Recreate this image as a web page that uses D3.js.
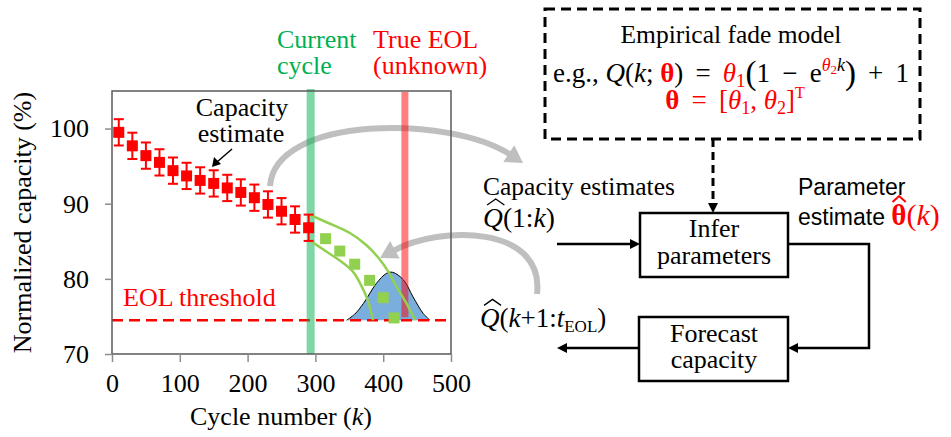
<!DOCTYPE html>
<html><head><meta charset="utf-8">
<script src="https://cdn.jsdelivr.net/npm/d3@7"></script>
<style>html,body{margin:0;padding:0;background:#fff;}svg{display:block;}
svg text{font-family:'Liberation Serif','Times New Roman',serif;white-space:pre;}
svg .sans{font-family:'Liberation Sans',Arial,sans-serif;}
</style>
</head><body>
<svg id="c" width="951" height="437"></svg>
<script>
// ---------- data ----------
const cycles      = [10,30,50,70,90,110,130,150,170,190,210,230,250,270,290];
const capacity    = [99.5,97.7,96.4,95.5,94.4,93.7,93.1,92.7,92.1,91.5,90.8,89.9,89.0,87.9,86.8];
const capError    = [1.75,1.75,1.75,1.75,1.75,1.75,1.75,1.75,1.75,1.75,1.75,1.75,1.75,1.75,1.75];
const fcCycles    = [315,336,358,380,400,416];
const fcCapacity  = [85.35,83.7,81.95,79.8,77.5,74.8];
const upperCycles = [292,320,351,375,392,408,420,434,447];
const upperCap    = [88.5,87.4,86.1,84.5,82.9,80.9,78.9,76.8,74.5];
const lowerCycles = [292,315,341,356,366,377,385];
const lowerCap    = [85.1,83.7,82.1,80.9,79.4,77.2,74.5];
const pdfCycles   = [346,358,371,390,405,414,430,444,459,469];
const pdfCap      = [74.5,75.3,76.75,79.4,80.74,80.87,79.85,77.6,75.4,74.5];
const currentCycle = 293;
const trueEOL      = 432;
const eolThreshold = 74.5;
const xTicks = [0,100,200,300,400,500];
const yTicks = [70,80,90,100];

const FS = 26;
const RED = '#ff0000', GREEN = '#00b050', LGREEN = '#92d050', GRAY = '#bfbfbf';
const SP = ' \u2009';   // medium math space

const svg = d3.select('#c');
const x = d3.scaleLinear([0,500],[112,451]);
const y = d3.scaleLinear([70,105],[354,91]);

// ---------- gray curved arrows ----------
function curvedArrow(p0,p1,p2,tip,color,w,hl,hw){
  const dx = tip[0]-p2[0], dy = tip[1]-p2[1], L = Math.hypot(dx,dy);
  const ux = dx/L, uy = dy/L;
  const bx = tip[0]-ux*hl, by = tip[1]-uy*hl;
  const p = d3.path(); p.moveTo(...p0); p.bezierCurveTo(p1[0],p1[1],p2[0],p2[1],bx+ux*2,by+uy*2);
  svg.append('path').attr('d',p.toString()).attr('fill','none').attr('stroke',color).attr('stroke-width',w);
  svg.append('path').attr('d',`M${tip[0]},${tip[1]}L${bx-uy*hw},${by+ux*hw}L${bx+uy*hw},${by-ux*hw}Z`).attr('fill',color);
}
curvedArrow([270,186],[275,115],[450,115],[523,163],GRAY,6,17,10);
curvedArrow([537,294],[545,225],[440,225],[380,258],GRAY,6,17,10);

// ---------- plot ----------
const pdfPts = pdfCycles.map((c,i)=>[c,pdfCap[i]]);
svg.append('path').datum(pdfPts)
  .attr('d', d3.area().x(d=>x(d[0])).y0(y(eolThreshold)).y1(d=>y(d[1])).curve(d3.curveCatmullRom))
  .attr('fill','#7aaedc');
svg.append('path').datum(pdfPts)
  .attr('d', d3.line().x(d=>x(d[0])).y(d=>y(d[1])).curve(d3.curveCatmullRom))
  .attr('fill','none').attr('stroke','#000').attr('stroke-width',1);

svg.append('line').attr('x1',x(0)).attr('x2',x(500)).attr('y1',y(eolThreshold)).attr('y2',y(eolThreshold))
  .attr('stroke',RED).attr('stroke-width',2.5).attr('stroke-dasharray','11,6');

svg.append('line').attr('x1',x(currentCycle)).attr('x2',x(currentCycle)).attr('y1',89).attr('y2',y(70))
  .attr('stroke',GREEN).attr('stroke-opacity',0.5).attr('stroke-width',8);
svg.append('line').attr('x1',x(trueEOL)).attr('x2',x(trueEOL)).attr('y1',92).attr('y2',y(eolThreshold)-3)
  .attr('stroke',RED).attr('stroke-opacity',0.5).attr('stroke-width',7);

const bline = d3.line().x(d=>x(d[0])).y(d=>y(d[1])).curve(d3.curveCatmullRom);
svg.append('path').datum(upperCycles.map((c,i)=>[c,upperCap[i]])).attr('d',bline)
  .attr('fill','none').attr('stroke',LGREEN).attr('stroke-width',2.5);
svg.append('path').datum(lowerCycles.map((c,i)=>[c,lowerCap[i]])).attr('d',bline)
  .attr('fill','none').attr('stroke',LGREEN).attr('stroke-width',2.5);

const SQ = 11;
svg.selectAll('rect.fc').data(fcCycles).join('rect').attr('class','fc')
  .attr('x',(d)=>x(d)-SQ/2).attr('y',(d,i)=>y(fcCapacity[i])-SQ/2).attr('width',SQ).attr('height',SQ).attr('fill',LGREEN);

const eb = svg.append('g').attr('stroke',RED).attr('stroke-width',2);
cycles.forEach((c,i)=>{
  const cx = x(c), t = y(capacity[i]+capError[i]), b = y(capacity[i]-capError[i]);
  eb.append('line').attr('x1',cx).attr('x2',cx).attr('y1',t).attr('y2',b);
  eb.append('line').attr('x1',cx-5).attr('x2',cx+5).attr('y1',t).attr('y2',t);
  eb.append('line').attr('x1',cx-5).attr('x2',cx+5).attr('y1',b).attr('y2',b);
});
svg.selectAll('rect.est').data(cycles).join('rect').attr('class','est')
  .attr('x',d=>x(d)-SQ/2).attr('y',(d,i)=>y(capacity[i])-SQ/2).attr('width',SQ).attr('height',SQ).attr('fill',RED);

svg.append('rect').attr('x',x(0)).attr('y',y(105)).attr('width',x(500)-x(0)).attr('height',y(70)-y(105))
  .attr('fill','none').attr('stroke','#595959').attr('stroke-width',1.5);

const ya = svg.append('g').attr('transform',`translate(${x(0)},0)`)
  .call(d3.axisLeft(y).tickValues(yTicks).tickSize(7).tickPadding(16));
const xa = svg.append('g').attr('transform',`translate(0,${y(70)})`)
  .call(d3.axisBottom(x).tickValues(xTicks).tickSize(8).tickPadding(12));
[ya,xa].forEach(a=>{
  a.attr('font-family',null).attr('font-size',null);
  a.select('.domain').remove();
  a.selectAll('.tick line').attr('stroke','#8c8c8c').attr('stroke-width',1.5);
  a.selectAll('.tick text').attr('fill','#000').style('font-size',FS+'px');
});

svg.append('text').attr('transform',`translate(31,${(y(70)+y(105))/2}) rotate(-90)`).attr('text-anchor','middle')
  .style('font-size',FS+'px').text('Normalized capacity (%)');

function txt(xp,yp,s,color,anchor,sans,size){
  const t = svg.append('text').attr('x',xp).attr('y',yp).attr('text-anchor',anchor||'start')
    .attr('fill',color||'#000').style('font-size',(size||FS)+'px').text(s);
  if(sans) t.attr('class','sans');
  return t;
}

// ---------- rich text: one <text> with tspans ----------
function rich(xp,yp,segs,anchor,baseSize){
  const t = svg.append('text').attr('x',xp).attr('y',yp).attr('text-anchor',anchor||'start')
    .style('font-size',(baseSize||FS)+'px');
  let cur = 0, idx = 0; const hats = [];
  segs.forEach(s=>{
    const target = s.dy||0;
    const ts = t.append('tspan').attr('dy',target-cur)
      .style('font-size',(s.size||baseSize||FS)+'px')
      .style('font-style',s.italic?'italic':'normal').style('font-weight',s.bold?'bold':'normal')
      .attr('fill',s.fill||'#000').text(s.t);
    if(s.sans) ts.attr('class','sans');
    cur = target;
    if(s.hat) hats.push({i:idx,s});
    idx += s.t.length;
  });
  hats.forEach(h=>{
    const r = t.node().getExtentOfChar(h.i), s = h.s, size = s.size||baseSize||FS;
    const base = yp + (s.dy||0) - size*0.69 - 3, sh = s.italic?2.5:0;
    const a = r.x + r.width*0.08 + sh, b = r.x + r.width*0.95 + sh;
    svg.append('path').attr('d',`M${a},${base}L${(a+b)/2},${base-6}L${b},${base}`)
      .attr('fill','none').attr('stroke',s.fill||'#000').attr('stroke-width',s.bold?2:1.3);
  });
  return t;
}

rich(281,425,[{t:'Cycle number ('},{t:'k',italic:true},{t:')'}],'middle');

txt(277,48,'Current',GREEN,'start',false,26);
txt(277,74,'cycle',GREEN,'start',false,26);
txt(373,48,'True EOL',RED,'start',false,26);
txt(373,74,'(unknown)',RED,'start',false,26);
txt(242,116,'Capacity','#000','middle');
txt(241,142,'estimate','#000','middle');
txt(123,306,'EOL threshold',RED,'start');
svg.append('line').attr('x1',232).attr('y1',149).attr('x2',217).attr('y2',162).attr('stroke','#000').attr('stroke-width',1.5);
svg.append('path').attr('d','M212,167 L214,157 L221,164 Z').attr('fill','#000');

// ---------- block diagram ----------
svg.append('rect').attr('x',545).attr('y',9).attr('width',375).attr('height',130)
  .attr('fill','none').attr('stroke','#000').attr('stroke-width',3).attr('stroke-dasharray','10,6');
txt(731,43,'Empirical fade model','#000','middle',false,25.5);
rich(731,82,[
  {t:'e.g., '},{t:'Q',italic:true},{t:'('},{t:'k',italic:true},{t:'; '},
  {t:'θ',bold:true,fill:RED},{t:')'+SP+'='+SP},
  {t:'θ',italic:true,fill:RED},{t:'1',fill:RED,size:19,dy:5},
  {t:'(',size:33,dy:2},{t:'1'+SP+'−'+SP+'e'},
  {t:'θ',italic:true,fill:RED,size:18,dy:-11},{t:'2',fill:RED,size:13,dy:-8},{t:'k',italic:true,size:18,dy:-11},
  {t:')',size:33,dy:2},{t:SP+'+'+SP+'1'}
],'middle',27);
rich(735,109,[
  {t:'θ',bold:true,fill:RED},{t:SP+'='+SP+'[',fill:RED},{t:'θ',italic:true,fill:RED},{t:'1',fill:RED,size:18,dy:5},
  {t:', ',fill:RED},{t:'θ',italic:true,fill:RED},{t:'2',fill:RED,size:18,dy:5},{t:']',fill:RED},{t:'T',fill:RED,size:16,dy:-11}
],'middle',27);

svg.append('line').attr('x1',713).attr('x2',713).attr('y1',139).attr('y2',204)
  .attr('stroke','#000').attr('stroke-width',3).attr('stroke-dasharray','8,5');
svg.append('path').attr('d','M713,213 L708,203 L718,203 Z').attr('fill','#000');

svg.append('rect').attr('x',640).attr('y',213).attr('width',148).attr('height',64)
  .attr('fill','#fff').attr('stroke','#000').attr('stroke-width',2.5);
svg.append('rect').attr('x',639).attr('y',317).attr('width',149).attr('height',64)
  .attr('fill','#fff').attr('stroke','#000').attr('stroke-width',2.5);
txt(714,237,'Infer','#000','middle');
txt(714,264,'parameters','#000','middle');
txt(714,342,'Forecast','#000','middle');
txt(714,368,'capacity','#000','middle');

function arrowLine(pts,head){
  svg.append('path').attr('d',d3.line()(pts)).attr('fill','none').attr('stroke','#000').attr('stroke-width',2.5);
  const [tx,ty]=head.tip, dir=head.dir;
  svg.append('path').attr('d',`M${tx},${ty}L${tx-dir*10},${ty-5}L${tx-dir*10},${ty+5}Z`).attr('fill','#000');
}
arrowLine([[557,244],[632,244]],{tip:[640,244],dir:1});
arrowLine([[788,244],[869,244],[869,348],[796,348]],{tip:[788,348],dir:-1});
arrowLine([[639,348],[565,348]],{tip:[557,348],dir:-1});

txt(483,195,'Capacity estimates','#000','start',false,25.5);
rich(483,227,[{t:'Q',italic:true,hat:true},{t:'(1:'},{t:'k',italic:true},{t:')'}],'start',27.5);
rich(480,327,[{t:'Q',italic:true,hat:true},{t:'('},{t:'k',italic:true},{t:'+1:'},{t:'t',italic:true},{t:'EOL',size:17,dy:5},{t:')'}],'start',27);
txt(798,195,'Parameter','#000','start',true,23);
rich(798,225,[{t:'estimate ',sans:true,size:23},{t:'θ',bold:true,fill:RED,hat:true,size:29},{t:'(',fill:RED},{t:'k',italic:true,fill:RED},{t:')',fill:RED}],'start',30);
</script>
</body></html>
